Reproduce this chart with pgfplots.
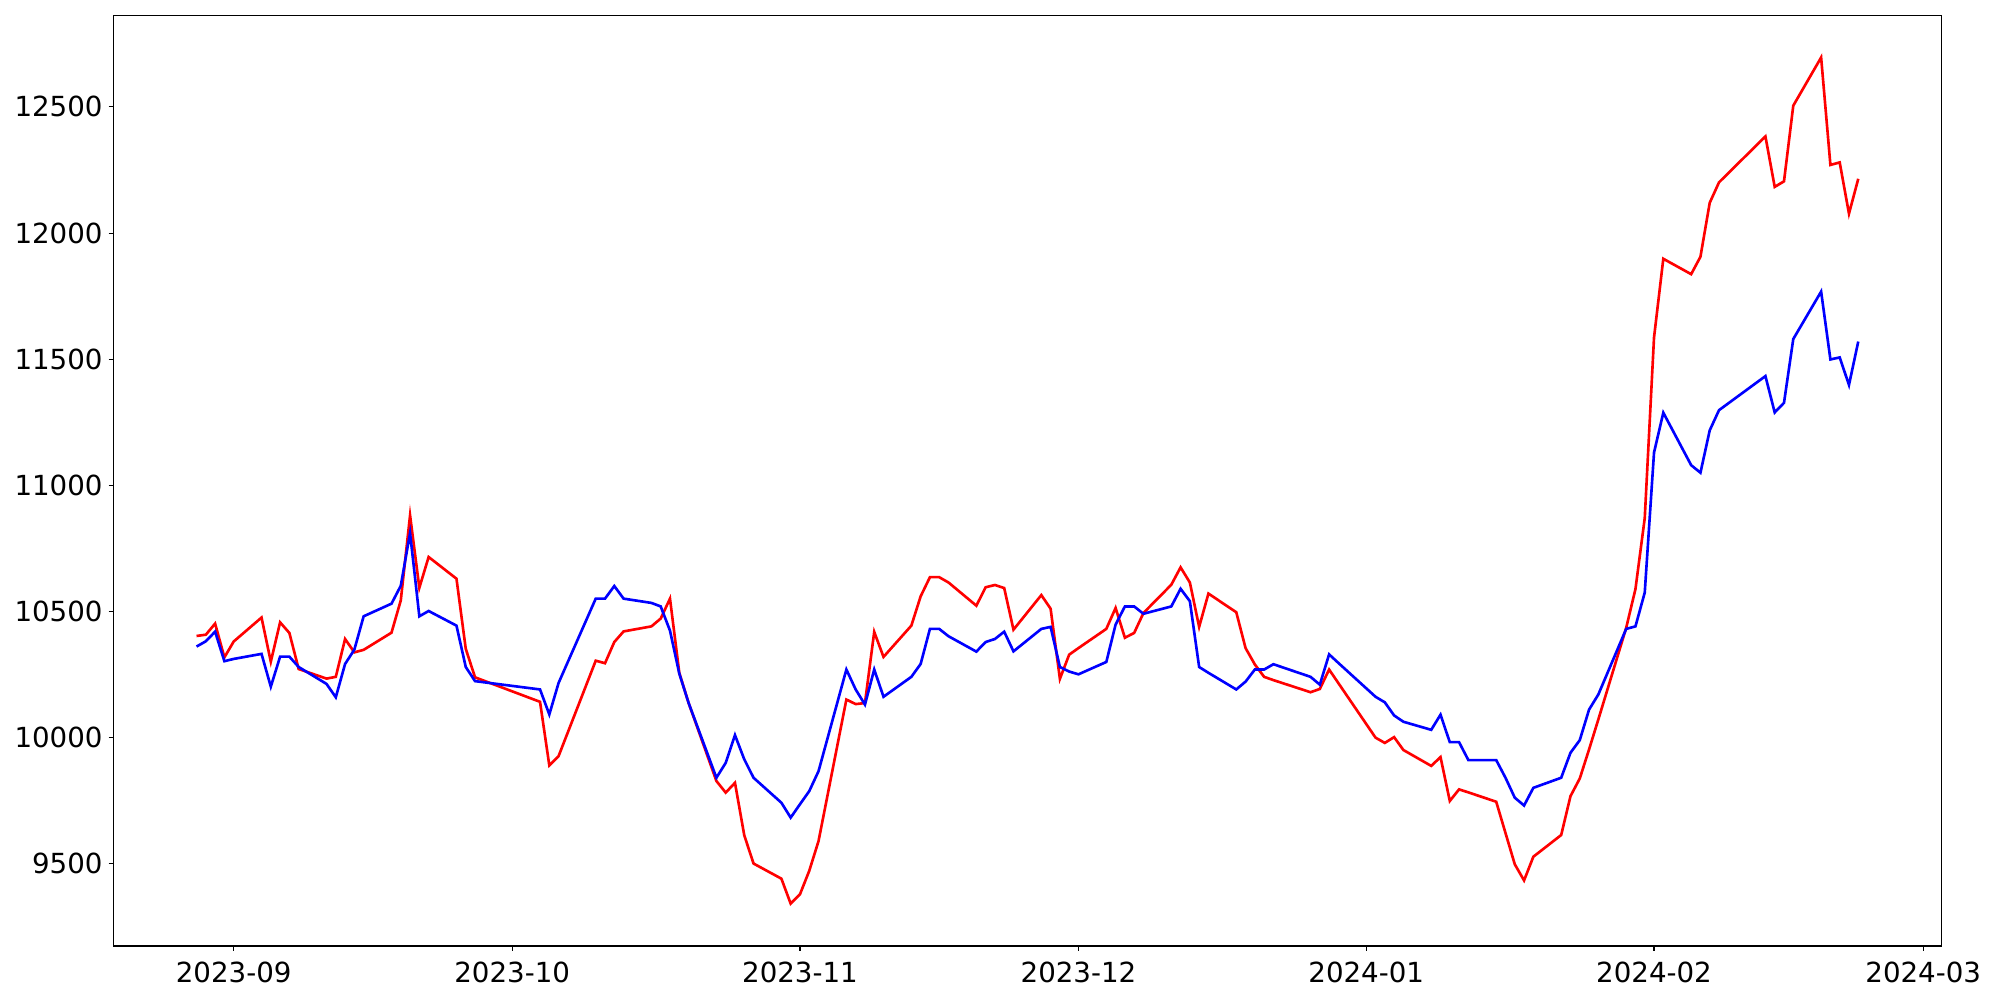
\documentclass[border=0pt]{standalone}
\usepackage{fontspec}
\setmainfont{DejaVu Sans}
\usepackage{pgfplots}
\pgfplotsset{compat=1.18}
\begin{document}
\fontsize{20}{24}\selectfont
\begin{tikzpicture}
\path[use as bounding box] (-82pt,-39pt) rectangle (1363.4pt,683.7pt);
\begin{axis}[
  at={(0,0)}, anchor=south west,
  scale only axis, width=1321pt, height=672.8pt,
  xmin=-12.95, xmax=183.95, ymin=9174, ymax=12864,
  xtick={0,30,61,91,122,153,182},
  xticklabels={2023-09,2023-10,2023-11,2023-12,2024-01,2024-02,2024-03},
  ytick={9500,10000,10500,11000,11500,12000,12500},
  scaled y ticks=false,
  yticklabel={\pgfmathprintnumber[fixed,precision=0,1000 sep={}]{\tick}},
  /pgf/number format/assume math mode=true,
  /pgf/number format/1000 sep={},
  tick pos=left, tick align=outside,
  major tick length=3.5pt,
  every tick/.style={black, line width=0.8pt},
  axis line style={line width=0.8pt},
  ticklabel style={font=\fontsize{20}{24}\selectfont},
  xticklabel style={yshift=-1pt},
  yticklabel style={xshift=2.5pt},
]
\addplot[red, line width=1.9pt] coordinates {
(-4,10403) (-3,10408) (-2,10452) (-1,10318) (0,10381) (3,10476) (4,10301) (5,10457) (6,10415) (7,10272) (10,10234) (11,10241) (12,10391) (13,10338) (14,10348) (17,10416) (18,10544) (19,10881) (20,10594) (21,10716) (24,10630) (25,10352) (26,10239) (33,10142) (34,9890) (35,9927) (39,10305) (40,10295) (41,10379) (42,10421) (45,10441) (46,10472) (47,10551) (48,10257) (49,10138) (52,9828) (53,9782) (54,9821) (55,9613) (56,9501) (59,9441) (60,9342) (61,9379) (62,9472) (63,9590) (66,10151) (67,10133) (68,10137) (69,10419) (70,10320) (73,10444) (74,10560) (75,10636) (76,10636) (77,10615) (80,10523) (81,10596) (82,10605) (83,10593) (84,10428) (87,10565) (88,10511) (89,10233) (90,10329) (91,10355) (94,10431) (95,10514) (96,10396) (97,10415) (98,10494) (101,10606) (102,10675) (103,10615) (104,10439) (105,10571) (108,10497) (109,10355) (110,10290) (111,10241) (112,10228) (116,10180) (117,10193) (118,10270) (119,10216) (123,10000) (124,9979) (125,10002) (126,9951) (129,9888) (130,9923) (131,9749) (132,9795) (133,9783) (136,9746) (137,9622) (138,9498) (139,9434) (140,9528) (143,9614) (144,9768) (145,9838) (146,9953) (147,10072) (150,10435) (151,10589) (152,10870) (153,11586) (154,11898) (157,11837) (158,11906) (159,12120) (160,12201) (165,12383) (166,12183) (167,12205) (168,12505) (171,12696) (172,12270) (173,12280) (174,12077) (175,12215)
};
\addplot[blue, line width=1.9pt] coordinates {
(-4,10361) (-3,10382) (-2,10420) (-1,10303) (0,10312) (3,10332) (4,10202) (5,10321) (6,10321) (7,10280) (10,10213) (11,10160) (12,10292) (13,10349) (14,10481) (17,10531) (18,10602) (19,10811) (20,10481) (21,10502) (24,10444) (25,10280) (26,10224) (33,10191) (34,10092) (35,10217) (39,10551) (40,10551) (41,10601) (42,10551) (45,10534) (46,10520) (47,10424) (48,10254) (49,10138) (52,9841) (53,9900) (54,10010) (55,9914) (56,9841) (59,9742) (60,9683) (61,9736) (62,9788) (63,9867) (66,10270) (67,10191) (68,10131) (69,10270) (70,10162) (73,10241) (74,10292) (75,10431) (76,10431) (77,10402) (80,10341) (81,10379) (82,10391) (83,10420) (84,10342) (87,10431) (88,10439) (89,10280) (90,10262) (91,10251) (94,10300) (95,10448) (96,10520) (97,10520) (98,10491) (101,10520) (102,10590) (103,10541) (104,10280) (105,10257) (108,10191) (109,10222) (110,10270) (111,10270) (112,10291) (116,10241) (117,10210) (118,10330) (119,10296) (123,10162) (124,10140) (125,10088) (126,10063) (129,10031) (130,10091) (131,9982) (132,9982) (133,9911) (136,9911) (137,9841) (138,9762) (139,9731) (140,9801) (143,9841) (144,9940) (145,9990) (146,10111) (147,10171) (150,10431) (151,10441) (152,10575) (153,11130) (154,11288) (157,11080) (158,11050) (159,11218) (160,11298) (165,11433) (166,11289) (167,11327) (168,11580) (171,11768) (172,11499) (173,11507) (174,11398) (175,11570)
};
\end{axis}
\end{tikzpicture}
\end{document}
